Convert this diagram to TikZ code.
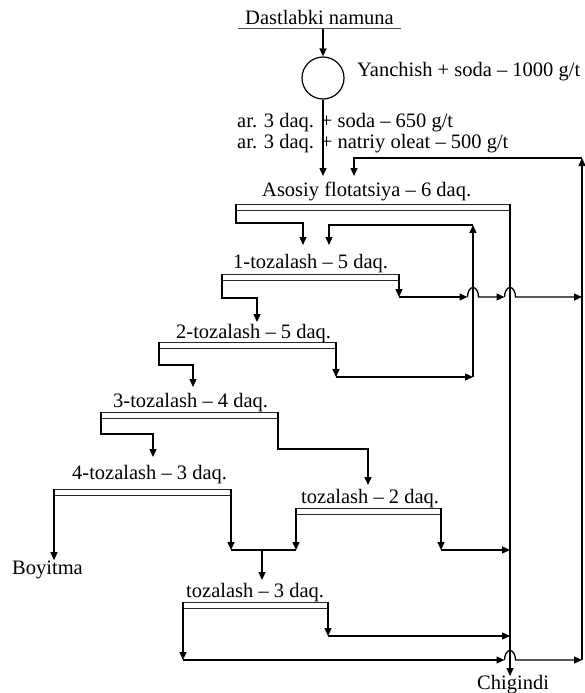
\documentclass[tikz,border=0pt]{standalone}
\usepackage{fontspec}
\setmainfont{Liberation Serif}
\usetikzlibrary{arrows.meta}

\begin{document}
\begin{tikzpicture}[
  x=1pt, y=-1pt,
  font=\fontsize{20.5}{24}\selectfont,
  lbl/.style={inner sep=0pt, anchor=base west},
  flow/.style={line width=1.3pt},
  arr/.style={-{Triangle[length=8pt,width=7pt]}, line width=1.3pt},
  stagebar/.style={double, double distance=5pt, line width=1pt, draw=black!85},
  hop/.style={x radius=5.5, y radius=9.5, start angle=180, end angle=360}
]
\useasboundingbox (0,0) rectangle (584,693);

% feed and grinding
\node[lbl] (feedtxt) at (245,25) {Dastlabki namuna};
\draw[black!70, line width=1pt] (238,29) -- (401,29);
\coordinate (feed) at (323,29);
\node[circle, draw, line width=1.2pt, minimum size=42pt, inner sep=0pt] (mill) at (323,78) {};
\node[lbl] (milltxt) at (357,76) {Yanchish + soda -- 1000 g/t};
\node[lbl] (dose1) at (237,127) {ar. 3 daq. + soda -- 650 g/t};
\node[lbl] (dose2) at (237,148) {ar. 3 daq. + natriy oleat -- 500 g/t};
\draw[arr] (feed) -- (mill);

% stage labels
\node[lbl] (rough) at (262,196) {Asosiy flotatsiya -- 6 daq.};
\node[lbl] (cl1) at (233,268) {1-tozalash -- 5 daq.};
\node[lbl] (cl2) at (176,338) {2-tozalash -- 5 daq.};
\node[lbl] (cl3) at (113,407) {3-tozalash -- 4 daq.};
\node[lbl] (cl4) at (72,479) {4-tozalash -- 3 daq.};
\node[lbl] (clA) at (301,503) {tozalash -- 2 daq.};
\node[lbl] (clB) at (186,597) {tozalash -- 3 daq.};
\node[lbl] (conc) at (12,574) {Boyitma};
\node[lbl] (tails) at (477,689) {Chigindi};

% bar ends
\coordinate (asL) at (236,204);  \coordinate (asR) at (510,204);
\coordinate (b1L) at (222,274);  \coordinate (b1R) at (399,274);
\coordinate (b2L) at (159,342);  \coordinate (b2R) at (336,342);
\coordinate (b3L) at (101,412);  \coordinate (b3R) at (278,412);
\coordinate (b4L) at (54,489);   \coordinate (b4R) at (231,489);
\coordinate (bAL) at (296,508);  \coordinate (bAR) at (441,508);
\coordinate (bBL) at (183,602);  \coordinate (bBR) at (328,602);
\foreach \l/\r in {asL/asR,b1L/b1R,b2L/b2R,b3L/b3R,b4L/b4R,bAL/bAR,bBL/bBR}
  \draw[stagebar] ([yshift=-3.5pt]\l) -- ([yshift=-3.5pt]\r);

% feed points and corners
\coordinate (asin) at (323,176);   \coordinate (asret) at (354,176);
\coordinate (c1in) at (303,245);   \coordinate (c1ret) at (329,245);
\coordinate (c2in) at (257,322);   \coordinate (c3in) at (193,387);
\coordinate (c4in) at (153,457);   \coordinate (cAin) at (368,485);
\coordinate (cBin) at (262,580);
\coordinate (k1) at (399,297);     \coordinate (k2) at (336,377);
\coordinate (m1) at (231,550);     \coordinate (m2) at (296,550);
\coordinate (mm) at (262,550);     \coordinate (kA) at (441,550);
\coordinate (kB) at (328,636);     \coordinate (kC) at (183,660);
\coordinate (rs1bot) at (473,377); \coordinate (rs1top) at (473,225);
\coordinate (rsbot) at (582,660);  \coordinate (rstop) at (582,158);
\coordinate (tailend) at (510,676);
\coordinate (jA) at (510,550);     \coordinate (jB) at (510,636);
\coordinate (h1) at (467.5,297);   \coordinate (h2) at (504.5,297);
\coordinate (h3) at (504.5,660);   \coordinate (rsmid) at (582,297);

% main line
\draw[arr] (mill) -- (asin);
\draw[arr] (rsbot) -- (rstop);
\draw[arr] (rstop) -| (asret);
\draw[arr] (asR) -- (tailend);
\draw[arr] (asL) -- ++(0,19) -| (c1in);
\draw[arr] (rs1bot) -- (rs1top);
\draw[arr] (rs1top) -| (c1ret);

% 1-tozalash
\draw[arr] (b1L) -- ++(0,24) -| (c2in);
\draw[arr] (b1R) -- (k1);
\draw[arr] (k1) -- (h1);
\draw[arr] (h1) arc[hop] -- (h2);
\draw[arr] (h2) arc[hop] -- (rsmid);

% 2-tozalash
\draw[arr] (b2L) -- ++(0,23) -| (c3in);
\draw[arr] (b2R) -- (k2);
\draw[arr] (k2) -- (rs1bot);

% 3-tozalash
\draw[arr] (b3L) -- ++(0,22) -| (c4in);
\draw[arr] (b3R) -- ++(0,37) -| (cAin);

% 4-tozalash
\draw[arr] (b4L) -- (conc.north -| b4L);
\draw[arr] (b4R) -- (m1);

% tozalash - 2 daq.
\draw[arr] (bAL) -- (m2);
\draw[flow] (m1) -- (m2);
\draw[arr] (mm) -- (cBin);
\draw[arr] (bAR) -- (kA);
\draw[arr] (kA) -- (jA);

% tozalash - 3 daq.
\draw[arr] (bBR) -- (kB);
\draw[arr] (kB) -- (jB);
\draw[arr] (bBL) -- (kC);
\draw[arr] (kC) -- (h3);
\draw[arr] (h3) arc[hop] -- (rsbot);
\end{tikzpicture}
\end{document}
